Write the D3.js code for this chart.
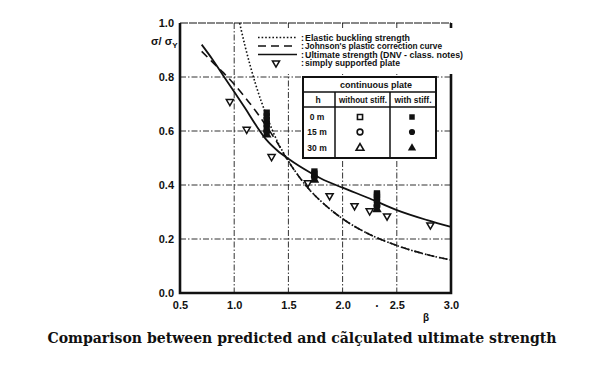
<!DOCTYPE html>
<html>
<head>
<meta charset="utf-8">
<script src="https://cdn.jsdelivr.net/npm/d3@7"></script>
<style>
  html, body { margin: 0; padding: 0; background: #fff; }
  svg { display: block; }
</style>
</head>
<body>
<div id="chart"></div>
<script>
// Predicted vs calculated ultimate strength (sigma/sigma_Y against beta)

const xTicks = [0.5, 1.0, 1.5, 2.0, 2.5, 3.0];
const yTicks = [0.0, 0.2, 0.4, 0.6, 0.8, 1.0];

// Ultimate strength (DNV - class. notes), solid
const ultBeta  = [0.70, 0.80, 0.90, 1.00, 1.10, 1.20, 1.30, 1.40, 1.50, 1.60, 1.70, 1.80, 2.00, 2.25, 2.50, 2.78, 3.00];
const ultSigma = [0.92, 0.865, 0.805, 0.745, 0.685, 0.622, 0.566, 0.527, 0.497, 0.470, 0.446, 0.424, 0.390, 0.350, 0.307, 0.270, 0.245];

// Johnson's plastic correction curve, dashed
const johnBeta  = [0.70, 0.80, 0.90, 1.00, 1.10, 1.20, 1.30, 1.40, 1.48, 1.60, 1.70, 1.80, 2.00, 2.25, 2.50, 2.75, 3.00];
const johnSigma = [0.895, 0.855, 0.816, 0.773, 0.725, 0.673, 0.616, 0.555, 0.500, 0.430, 0.380, 0.340, 0.275, 0.217, 0.176, 0.145, 0.122];

// Elastic buckling strength, dotted
const elasBeta  = [1.05, 1.10, 1.20, 1.30, 1.40, 1.50, 1.60, 1.70, 1.80, 2.00, 2.25, 2.50, 2.75, 3.00];
const elasSigma = [1.00, 0.915, 0.770, 0.655, 0.560, 0.489, 0.430, 0.380, 0.340, 0.275, 0.217, 0.176, 0.145, 0.122];

// simply supported plate (open inverted triangles)
const ssBeta  = [0.96, 1.115, 1.345, 1.68, 1.88, 2.11, 2.25, 2.41, 2.81];
const ssSigma = [0.709, 0.606, 0.505, 0.408, 0.360, 0.323, 0.304, 0.285, 0.252];

// continuous plate results (stacked symbols forming the black bars)
const contBeta  = [1.30, 1.30, 1.30, 1.30, 1.30, 1.30, 1.30, 1.74, 1.74, 1.74, 1.74, 2.317, 2.317, 2.317, 2.317, 2.317, 2.317, 2.317];
const contSigma = [0.586, 0.598, 0.612, 0.626, 0.640, 0.654, 0.668, 0.419, 0.431, 0.442, 0.450, 0.309, 0.322, 0.335, 0.346, 0.356, 0.364, 0.369];
const contShape = ["tri", "circle", "square", "square", "square", "square", "square", "tri", "circle", "square", "square", "tri", "circle", "square", "square", "square", "square", "square"];

// legend / table texts
const legendLabels = ["Elastic buckling strength", "Johnson's plastic correction curve", "Ultimate strength (DNV - class. notes)", "simply supported plate"];
const tableHeads = ["h", "without stiff.", "with stiff."];
const tableRows = ["0 m", "15 m", "30 m"];
const tableShapes = ["square", "circle", "tri"];

const W = 604, H = 376;
const svg = d3.select("#chart").append("svg").attr("width", W).attr("height", H);

const x = d3.scaleLinear().domain([0.5, 3.0]).range([180, 451]);
const y = d3.scaleLinear().domain([0, 1]).range([293, 23]);

const ink = "#111";
const tickFont = "'Liberation Sans', Arial, sans-serif";

// grid
const grid = svg.append("g").attr("stroke", "#333").attr("stroke-width", 1).attr("stroke-dasharray", "6,2,1.5,2");
grid.selectAll("line.v").data(xTicks.slice(1, -1)).join("line")
  .attr("x1", d => x(d)).attr("x2", d => x(d)).attr("y1", y(1)).attr("y2", y(0));
grid.selectAll("line.h").data(yTicks.slice(1, -1)).join("line")
  .attr("x1", x(0.5)).attr("x2", x(3.0)).attr("y1", d => y(d)).attr("y2", d => y(d));

// top border thin
svg.append("line").attr("x1", x(0.5)).attr("x2", x(3.0)).attr("y1", y(1)).attr("y2", y(1))
  .attr("stroke", ink).attr("stroke-width", 1).attr("stroke-dasharray", "8,1");

// axes
const xAxis = d3.axisBottom(x).tickValues(xTicks).tickFormat(d3.format(".1f")).tickSize(0).tickPadding(8);
const yAxis = d3.axisLeft(y).tickValues(yTicks).tickFormat(d3.format(".1f")).tickSize(0).tickPadding(6);

const gx = svg.append("g").attr("transform", `translate(0,${y(0)})`).call(xAxis);
const gy = svg.append("g").attr("transform", `translate(${x(0.5)},0)`).call(yAxis);
[gx, gy].forEach(g => {
  g.select(".domain").remove();
  g.selectAll("text").attr("fill", ink).style("font-family", tickFont)
    .style("font-size", "11px").style("font-weight", "bold");
});

// frame: left, bottom, right thick
svg.append("path")
  .attr("d", `M${x(0.5)},${y(1)}V${y(0)}H${x(3.0)}V${y(1)}`)
  .attr("fill", "none").attr("stroke", ink).attr("stroke-width", 2.6);

// curves
const line = d3.line().x(d => x(d[0])).y(d => y(d[1])).curve(d3.curveMonotoneX);
const zip = (a, b) => a.map((v, i) => [v, b[i]]);

svg.append("path").datum(zip(elasBeta, elasSigma)).attr("d", line)
  .attr("fill", "none").attr("stroke", ink).attr("stroke-width", 1.6).attr("stroke-dasharray", "1.6,2");
svg.append("path").datum(zip(johnBeta, johnSigma)).attr("d", line)
  .attr("fill", "none").attr("stroke", ink).attr("stroke-width", 1.6).attr("stroke-dasharray", "8,5");
svg.append("path").datum(zip(ultBeta, ultSigma)).attr("d", line)
  .attr("fill", "none").attr("stroke", ink).attr("stroke-width", 1.8);

// symbols
const symPath = (shape, size) => {
  if (shape === "square") return d3.symbol(d3.symbolSquare, size)();
  if (shape === "circle") return d3.symbol(d3.symbolCircle, size)();
  return d3.symbol(d3.symbolTriangle, size)();
};

svg.selectAll("path.ss").data(zip(ssBeta, ssSigma)).join("path")
  .attr("class", "ss")
  .attr("d", d3.symbol(d3.symbolTriangle, 22)())
  .attr("transform", d => `translate(${x(d[0])},${y(d[1])}) rotate(180)`)
  .attr("fill", "#fff").attr("stroke", ink).attr("stroke-width", 1.5);

svg.selectAll("path.cont").data(contBeta.map((b, i) => ({ b, s: contSigma[i], shape: contShape[i] }))).join("path")
  .attr("class", "cont")
  .attr("d", d => symPath(d.shape, 40))
  .attr("transform", d => `translate(${x(d.b)},${y(d.s)})`)
  .attr("fill", ink);

// legend (white background covers grid)
svg.append("rect").attr("x", 254).attr("y", 28).attr("width", 216).attr("height", 46).attr("fill", "#fff");
const legRowY = [37.5, 46, 54.5, 63];
const legDash = ["1.6,2", "8,5", null];
legDash.forEach((dash, i) => {
  const l = svg.append("line").attr("x1", 258).attr("x2", 297).attr("y1", legRowY[i]).attr("y2", legRowY[i])
    .attr("stroke", ink).attr("stroke-width", 1.7);
  if (dash) l.attr("stroke-dasharray", dash);
});
svg.append("path").attr("d", d3.symbol(d3.symbolTriangle, 22)())
  .attr("transform", `translate(276,${legRowY[3]}) rotate(180)`)
  .attr("fill", "#fff").attr("stroke", ink).attr("stroke-width", 1.5);

const legLen = [105, 137, 158, 95];
legendLabels.forEach((t, i) => {
  svg.append("text").attr("x", 301).attr("y", legRowY[i] + 3).text(":")
    .attr("fill", ink).style("font-family", tickFont).style("font-size", "9px").style("font-weight", "bold");
  svg.append("text").attr("x", 305).attr("y", legRowY[i] + 3.2).text(t)
    .attr("textLength", legLen[i]).attr("lengthAdjust", "spacingAndGlyphs")
    .attr("fill", ink).style("font-family", tickFont).style("font-size", "9px").style("font-weight", "bold");
});

// continuous plate table
const tb = { x0: 303, x1: 436, y0: 77, y1: 158, c1: 335, c2: 390, r1: 92, r2: 107 };
svg.append("rect").attr("x", tb.x0).attr("y", tb.y0).attr("width", tb.x1 - tb.x0).attr("height", tb.y1 - tb.y0)
  .attr("fill", "#fff").attr("stroke", ink).attr("stroke-width", 2);
svg.append("line").attr("x1", tb.x0).attr("x2", tb.x1).attr("y1", tb.r1).attr("y2", tb.r1).attr("stroke", ink).attr("stroke-width", 1.5);
svg.append("line").attr("x1", tb.x0).attr("x2", tb.x1).attr("y1", tb.r2).attr("y2", tb.r2).attr("stroke", ink).attr("stroke-width", 1.5);
[tb.c1, tb.c2].forEach(c => svg.append("line").attr("x1", c).attr("x2", c).attr("y1", tb.r1).attr("y2", tb.y1)
  .attr("stroke", ink).attr("stroke-width", 1.5));

const tText = (tx, ty, t, len) => {
  const e = svg.append("text").attr("x", tx).attr("y", ty).attr("text-anchor", "middle").text(t)
    .attr("fill", ink).style("font-family", tickFont).style("font-size", "8.5px").style("font-weight", "bold");
  if (len) e.attr("textLength", len).attr("lengthAdjust", "spacingAndGlyphs");
};
tText(376, 88, "continuous plate", 72);
const headX = [318, 363, 413];
const headLen = [null, 48, 37];
tableHeads.forEach((h, i) => tText(headX[i], 102.5, h, headLen[i]));
const rowY = [117, 132, 148];
tableRows.forEach((r, i) => {
  tText(317, rowY[i] + 3, r, null);
  svg.append("path").attr("d", symPath(tableShapes[i], 26))
    .attr("transform", `translate(360,${rowY[i]})`)
    .attr("fill", "#fff").attr("stroke", ink).attr("stroke-width", 1.6);
  svg.append("path").attr("d", symPath(tableShapes[i], 30))
    .attr("transform", `translate(412,${rowY[i]})`)
    .attr("fill", ink);
});

// axis titles
const yTitle = svg.append("text").attr("x", 151).attr("y", 45)
  .attr("fill", ink).style("font-family", tickFont).style("font-size", "11px").style("font-weight", "bold");
yTitle.append("tspan").text("σ/ σ");
yTitle.append("tspan").attr("dy", 3).style("font-size", "8px").text("Y");

svg.append("text").attr("x", 426).attr("y", 321).attr("text-anchor", "middle").text("β")
  .attr("fill", ink).style("font-family", tickFont).style("font-size", "10px").style("font-weight", "bold");

// stray dot between 2.0 and 2.5 labels
svg.append("text").attr("x", x(2.32)).attr("y", 310).attr("text-anchor", "middle").text("·")
  .attr("fill", ink).style("font-family", tickFont).style("font-size", "12px").style("font-weight", "bold");

// caption
svg.append("text").attr("x", 302).attr("y", 343).attr("text-anchor", "middle")
  .text("Comparison between predicted and cãlçulated ultimate strength")
  .attr("textLength", 509).attr("lengthAdjust", "spacingAndGlyphs")
  .attr("fill", ink).style("font-family", "'DejaVu Serif', 'Liberation Serif', serif")
  .style("font-size", "14px").style("font-weight", "bold");
</script>
</body>
</html>
